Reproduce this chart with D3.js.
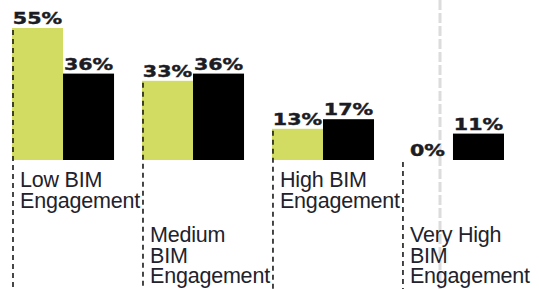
<!DOCTYPE html>
<html>
<head>
<meta charset="utf-8">
<script src="https://cdn.jsdelivr.net/npm/d3@7"></script>
<style>
  html, body { margin: 0; padding: 0; background: #fff; }
  svg { display: block; }
</style>
</head>
<body>
<svg id="chart" width="539" height="289"></svg>
<script>
const categories = ["Low BIM Engagement", "Medium BIM Engagement", "High BIM Engagement", "Very High BIM Engagement"];
const categoryLines = [["Low BIM", "Engagement"], ["Medium", "BIM", "Engagement"], ["High BIM", "Engagement"], ["Very High", "BIM", "Engagement"]];
const seriesNames = ["Series A", "Series B"];
const seriesA = [55, 33, 13, 0];
const seriesB = [36, 36, 17, 11];
const valueLabelsA = ["55%", "33%", "13%", "0%"];
const valueLabelsB = ["36%", "36%", "17%", "11%"];

const colors = { "Series A": "#d3dc62", "Series B": "#000000" };
const W = 539, H = 289;
const svg = d3.select("#chart");

const x0 = d3.scaleBand().domain(categories).range([12, 504]).paddingInner(0.215).paddingOuter(0);
const x1 = d3.scaleBand().domain(seriesNames).range([0, x0.bandwidth()]).padding(0);
const y = d3.scaleLinear().domain([0, 55]).range([160, 28]);

// light gray dashed guide line in background
svg.append("line")
  .attr("x1", 440).attr("x2", 440).attr("y1", 0).attr("y2", H)
  .attr("stroke", "#dcdcdc").attr("stroke-width", 3)
  .attr("stroke-dasharray", "10,3");

const rows = categories.map((c, i) => ({
  cat: c, i,
  vals: [
    { s: "Series A", v: seriesA[i], label: valueLabelsA[i] },
    { s: "Series B", v: seriesB[i], label: valueLabelsB[i] }
  ]
}));

const g = svg.selectAll("g.grp").data(rows).join("g")
  .attr("class", "grp")
  .attr("transform", d => `translate(${x0(d.cat)},0)`);

g.selectAll("rect").data(d => d.vals).join("rect")
  .attr("x", d => x1(d.s))
  .attr("y", d => y(d.v))
  .attr("width", x1.bandwidth())
  .attr("height", d => y(0) - y(d.v))
  .attr("fill", d => colors[d.s]);

// dashed separator lines
g.append("line")
  .attr("x1", 1).attr("x2", 1)
  .attr("y1", d => y(d.vals[0].v) + 2)
  .attr("y2", H)
  .attr("stroke", "#1a1a1a").attr("stroke-width", 1.6)
  .attr("stroke-dasharray", "5,4");

// value labels
g.selectAll("text.val").data(d => d.vals).join("text")
  .attr("class", "val")
  .attr("transform", d => `translate(${x1(d.s) + x1.bandwidth() / 2},${y(d.v) - 4}) scale(1.33,1)`)
  .attr("text-anchor", "middle")
  .attr("font-family", "DejaVu Sans")
  .attr("font-weight", "bold")
  .attr("font-size", 15.5)
  .attr("stroke", "#1c1c24")
  .attr("stroke-width", 0.4)
  .attr("fill", "#1c1c24")
  .text(d => d.label);

// category labels (one text element per line)
g.selectAll("text.cat")
  .data(d => categoryLines[d.i].map((ln, k) => ({ ln, k, i: d.i })))
  .join("text")
  .attr("class", "cat")
  .attr("x", 8)
  .attr("y", d => (d.i % 2 === 0 ? 187 : 242) + d.k * 20.7)
  .attr("font-family", "Liberation Sans, Arial, sans-serif")
  .attr("font-size", 21.5)
  .attr("letter-spacing", -0.2)
  .attr("fill", "#22222c")
  .text(d => d.ln);
</script>
</body>
</html>
